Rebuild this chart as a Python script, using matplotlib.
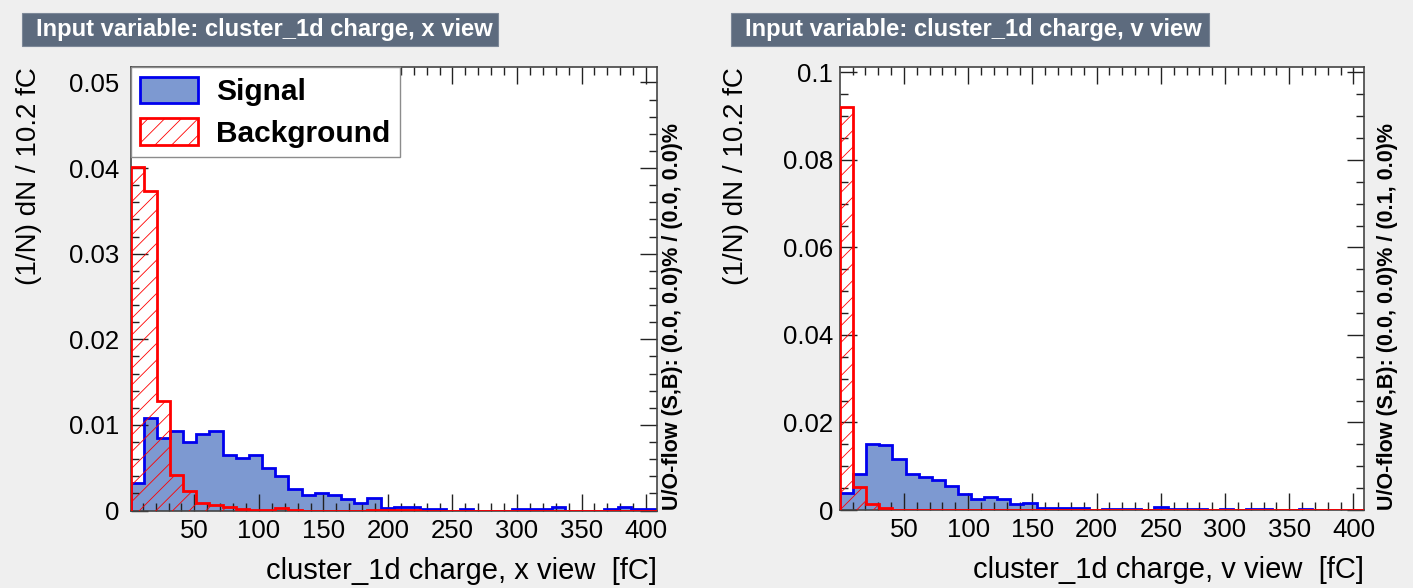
import numpy as np
import matplotlib.pyplot as plt
from matplotlib.patches import Patch, Rectangle
from matplotlib.ticker import FixedLocator, MultipleLocator, FuncFormatter

plt.rcParams['font.family'] = ['Liberation Sans', 'DejaVu Sans']
plt.rcParams['hatch.linewidth'] = 0.6

#------------------------- histogram contents -------------------------
BIN_W = 10.2            # fC per bin

# cluster_1d charge, x view
sig_x = [0.00325, 0.01076, 0.00841, 0.00927, 0.00802, 0.00888, 0.00927, 0.00646,
         0.00614, 0.00646, 0.00501, 0.00399, 0.00254, 0.00176, 0.00207, 0.00176,
         0.00137, 0.00086, 0.00145, 0.00031, 0.0004, 0.0004, 0.0002, 0.0002,
         0.0, 0.0002, 0.0, 0.0, 0.0, 0.0002, 0.0002, 0.0002,
         0.0004, 0.0, 0.0, 0.0, 0.0002, 0.0004, 0.0002, 0.0002]
bkg_x = [0.0401, 0.03736, 0.01283, 0.0041, 0.00223, 0.00086, 0.00067, 0.0004,
         0.00015, 0.0001, 0.0001, 0.0003, 0.0001, 0.0, 0.0, 0.0,
         0.0, 0.0, 0.0001, 0.0001, 0.0001, 0.0001, 0.0, 0.0,
         0.0, 0.0, 0.0, 0.0, 0.0, 0.0, 0.0, 0.0,
         0.0, 0.0, 0.0, 0.0, 0.0, 0.0, 0.0, 0.0]

# cluster_1d charge, v view
sig_v = [0.00396, 0.00815, 0.01509, 0.01486, 0.01166, 0.00823, 0.00762, 0.00686,
         0.00556, 0.00366, 0.00244, 0.00305, 0.00244, 0.0013, 0.00152, 0.00053,
         0.0004, 0.0005, 0.0005, 0.0, 0.0003, 0.0003, 0.0003, 0.0,
         0.0006, 0.0003, 0.0003, 0.0003, 0.0, 0.0003, 0.0, 0.0003,
         0.0003, 0.0, 0.0, 0.0003, 0.0, 0.0, 0.0, 0.0]
bkg_v = [0.0922, 0.00533, 0.00137, 0.0004, 0.0001, 0.0001, 0.0001, 0.0001,
         0.0, 0.0, 0.0, 0.0, 0.0, 0.0, 0.0, 0.0,
         0.0, 0.0, 0.0, 0.0, 0.0, 0.0, 0.0, 0.0,
         0.0, 0.0, 0.0, 0.0, 0.0, 0.0, 0.0, 0.0,
         0.0, 0.0, 0.0, 0.0, 0.0, 0.0, 0.0, 0.0]

xticks = [50, 100, 150, 200, 250, 300, 350, 400]
titles = ['Input variable: cluster_1d charge, x view',
          'Input variable: cluster_1d charge, v view']
xlabels = ['cluster_1d charge, x view  [fC]',
           'cluster_1d charge, v view  [fC]']
ylabel = '(1/N) dN / 10.2 fC'
uoflow = ['U/O-flow (S,B): (0.0, 0.0)% / (0.0, 0.0)%',
          'U/O-flow (S,B): (0.0, 0.0)% / (0.1, 0.0)%']

SIG_FILL = '#7d99d1'
SIG_LINE = '#0000ee'
BKG_LINE = '#ff0000'
BG = '#efefef'
TITLE_BG = '#5d6b7e'

W, H = 1413, 588


def px_rect(x0, y0, x1, y1):
    # pixel box (top-left origin) -> figure fraction [l, b, w, h]
    return [x0 / W, 1 - y1 / H, (x1 - x0) / W, (y1 - y0) / H]


def draw_panel(ax, sig, bkg, x0, ymax, ymaj, ymin, xlab, uo, ylab_x, uo_x, ypad):
    edges = x0 + BIN_W * np.arange(len(sig) + 1)
    ax.stairs(sig, edges, fill=True, facecolor=SIG_FILL, edgecolor='none', zorder=1)
    ax.stairs(sig, edges, color=SIG_LINE, lw=2, zorder=2)
    ax.stairs(bkg, edges, fill=True, facecolor='none', edgecolor=BKG_LINE,
              hatch='//', lw=0, zorder=3)
    ax.stairs(bkg, edges, color=BKG_LINE, lw=2, zorder=4)

    ax.set_xlim(edges[0], edges[-1])
    ax.set_ylim(0, ymax)
    ax.xaxis.set_major_locator(FixedLocator(xticks))
    ax.xaxis.set_minor_locator(MultipleLocator(10))
    ax.yaxis.set_major_locator(MultipleLocator(ymaj))
    ax.yaxis.set_minor_locator(MultipleLocator(ymin))
    ax.yaxis.set_major_formatter(FuncFormatter(lambda v, p: '%g' % round(v, 6)))
    ax.tick_params(which='both', direction='in', top=True, right=True,
                   labelsize=18.5, color='#222222', width=1)
    ax.tick_params(which='major', length=12)
    ax.tick_params(which='minor', length=6)
    ax.tick_params(axis='x', pad=6)
    ax.tick_params(axis='y', pad=ypad)
    for s in ax.spines.values():
        s.set_color('#444444')
        s.set_linewidth(1.2)

    ax.set_xlabel(xlab, fontsize=21, loc='right')
    ax.xaxis.set_label_coords(1.0, -0.136)
    ax.xaxis.label.set_va('center')
    ax.set_ylabel(ylabel, fontsize=20, loc='top')
    ax.yaxis.set_label_coords(ylab_x, 1.0)

    ax.text(uo_x, 0.0, uo, rotation=90, ha='center', va='bottom',
            fontsize=15.5, fontweight='bold', transform=ax.transAxes)


fig = plt.figure(figsize=(W / 100, H / 100), dpi=100, facecolor=BG)

ax1 = fig.add_axes(px_rect(130.5, 67, 657, 510.5))
ax2 = fig.add_axes(px_rect(840, 66.7, 1364, 510))

draw_panel(ax1, sig_x, bkg_x, 0.5, 0.0518, 0.01, 0.002, xlabels[0], uoflow[0],
           -0.168, 1.0285, 8)
draw_panel(ax2, sig_v, bkg_v, 0.2, 0.1013, 0.02, 0.005, xlabels[1], uoflow[1],
           -0.174, 1.0439, 5)

handles = [Patch(facecolor=SIG_FILL, edgecolor=SIG_LINE, lw=2),
           Patch(facecolor='white', edgecolor=BKG_LINE, hatch='//', lw=2)]
leg = ax1.legend(handles, ['Signal', 'Background'], loc='upper left',
                 bbox_to_anchor=(0, 1), borderaxespad=0, fancybox=False,
                 framealpha=1, edgecolor='#8c8c8c',
                 prop={'weight': 'bold', 'size': 21.5},
                 handlelength=1.95, handleheight=1.0, handletextpad=0.6,
                 labelspacing=0.4, borderpad=0.32)
leg.get_frame().set_linewidth(1.0)
leg.set_zorder(10)

# title boxes above each pad
for (bx0, bx1), title in zip([(22, 498), (731, 1209)], titles):
    l, b, w, h = px_rect(bx0, 13, bx1, 46)
    fig.patches.append(Rectangle((l, b), w, h, transform=fig.transFigure,
                                 facecolor=TITLE_BG, edgecolor='#7d8898', lw=0.8))
    fig.text((bx0 + 14) / W, 1 - 29.5 / H, title, color='white', fontsize=17.1,
             fontweight='bold', ha='left', va='center')

fig.savefig('out.png', dpi=100, facecolor=BG)
